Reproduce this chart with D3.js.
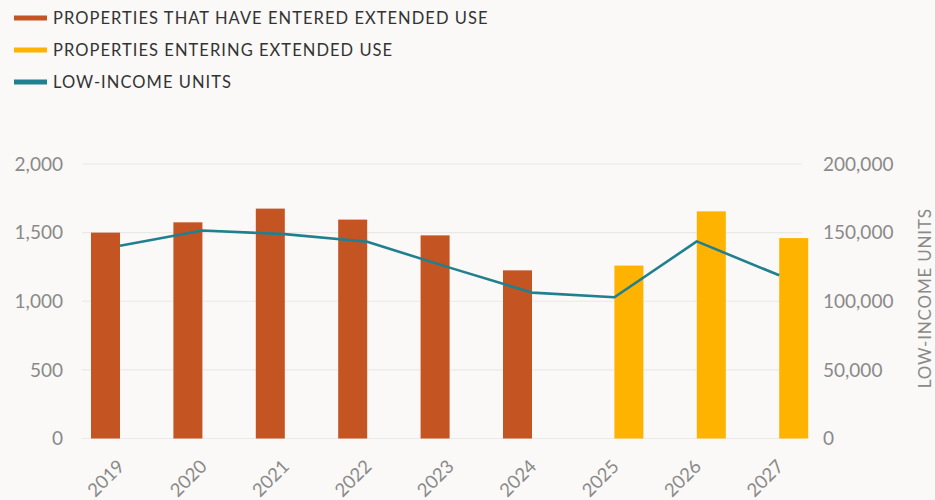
<!DOCTYPE html>
<html lang="en">
<head>
  <meta charset="UTF-8" />
  <title>Extended Use Properties</title>
  <script src="https://d3js.org/d3.v7.min.js"></script>
  <style>
    body {
      margin: 0;
      background: #faf9f7;
      font-family: "Lato", "Noto Sans", sans-serif;
    }
    svg {
      display: block;
    }
    .tick-label {
      fill: #8a8a8a;
      font-size: 19px;
    }
    .legend-label {
      fill: #333;
      font-size: 16.5px;
      letter-spacing: 1.05px;
    }
  </style>
</head>
<body>
  <svg id="chart" width="935" height="500"></svg>

  <script>
    const years = ["2019", "2020", "2021", "2022", "2023", "2024", "2025", "2026", "2027"];
    const entered = [1500, 1575, 1675, 1595, 1480, 1225, 0, 0, 0];
    const entering = [0, 0, 0, 0, 0, 0, 1260, 1655, 1460];
    const units = [140500, 151500, 148900, 143300, 124500, 106300, 102900, 143600, 118900];
    const leftTicks = [0, 500, 1000, 1500, 2000];
    const rightTicks = [0, 50000, 100000, 150000, 200000];

    const legendItems = [
      { label: "PROPERTIES THAT HAVE ENTERED EXTENDED USE", color: "#c45422" },
      { label: "PROPERTIES ENTERING EXTENDED USE", color: "#fdb300" },
      { label: "LOW-INCOME UNITS", color: "#20808f" }
    ];

    const svg = d3.select("#chart");
    const plotLeft = 82, plotRight = 802;

    const x = d3.scaleBand().domain(years).range([78.8, 820.4]).padding(0);
    const x1 = d3.scaleBand().domain(["entered", "entering"]).range([-29, 29]);
    const y = d3.scaleLinear().domain([0, 2000]).range([438.5, 164]);
    const y2 = d3.scaleLinear().domain([0, 200000]).range([438.5, 164]);

    // legend
    const legend = svg.append("g");
    legendItems.forEach((d, i) => {
      const ly = 18 + i * 32;
      legend.append("line")
        .attr("x1", 14).attr("x2", 47)
        .attr("y1", ly).attr("y2", ly)
        .attr("stroke", d.color)
        .attr("stroke-width", 5);
      legend.append("text")
        .attr("class", "legend-label")
        .attr("x", 53).attr("y", ly)
        .attr("dy", "0.36em")
        .text(d.label);
    });

    // grid lines
    svg.append("g")
      .selectAll("line")
      .data(leftTicks)
      .join("line")
      .attr("x1", plotLeft).attr("x2", plotRight)
      .attr("y1", d => y(d)).attr("y2", d => y(d))
      .attr("stroke", "#ebe9e7")
      .attr("stroke-width", 1.2);

    // left axis labels
    svg.append("g")
      .selectAll("text")
      .data(leftTicks)
      .join("text")
      .attr("class", "tick-label")
      .attr("x", 63)
      .attr("y", d => y(d))
      .attr("dy", "0.35em")
      .attr("text-anchor", "end")
      .text(d => d3.format(",")(d));

    // right axis labels
    svg.append("g")
      .selectAll("text")
      .data(rightTicks)
      .join("text")
      .attr("class", "tick-label")
      .attr("x", 823)
      .attr("y", d => y2(d))
      .attr("dy", "0.35em")
      .attr("text-anchor", "start")
      .text(d => d3.format(",")(d));

    svg.append("text")
      .attr("class", "tick-label")
      .attr("transform", `translate(931, ${y2(100000) - 3}) rotate(-90)`)
      .attr("text-anchor", "middle")
      .style("font-size", "17px")
      .style("letter-spacing", "0.8px")
      .text("LOW-INCOME UNITS");

    // bars
    const barData = years.map((yr, i) => [
      { year: yr, key: "entered", value: entered[i], color: "#c45422" },
      { year: yr, key: "entering", value: entering[i], color: "#fdb300" }
    ]).flat().filter(d => d.value > 0);

    svg.append("g")
      .selectAll("rect")
      .data(barData)
      .join("rect")
      .attr("x", d => x(d.year) + x.bandwidth() / 2 + x1(d.key))
      .attr("width", x1.bandwidth())
      .attr("y", d => y(d.value))
      .attr("height", d => y(0) - y(d.value))
      .attr("fill", d => d.color);

    // line
    const line = d3.line()
      .x((d, i) => x(years[i]) + x.bandwidth() / 2)
      .y(d => y2(d));

    svg.append("path")
      .datum(units)
      .attr("fill", "none")
      .attr("stroke", "#20808f")
      .attr("stroke-width", 2.6)
      .attr("stroke-linejoin", "round")
      .attr("d", line);

    // x labels
    svg.append("g")
      .selectAll("text")
      .data(years)
      .join("text")
      .attr("class", "tick-label")
      .attr("text-anchor", "end")
      .attr("transform", d => `translate(${x(d) + x.bandwidth() / 2 + 1}, 463) rotate(-45)`)
      .attr("dy", "0.35em")
      .style("font-size", "18.5px")
      .text(d => d);
  </script>
</body>
</html>
